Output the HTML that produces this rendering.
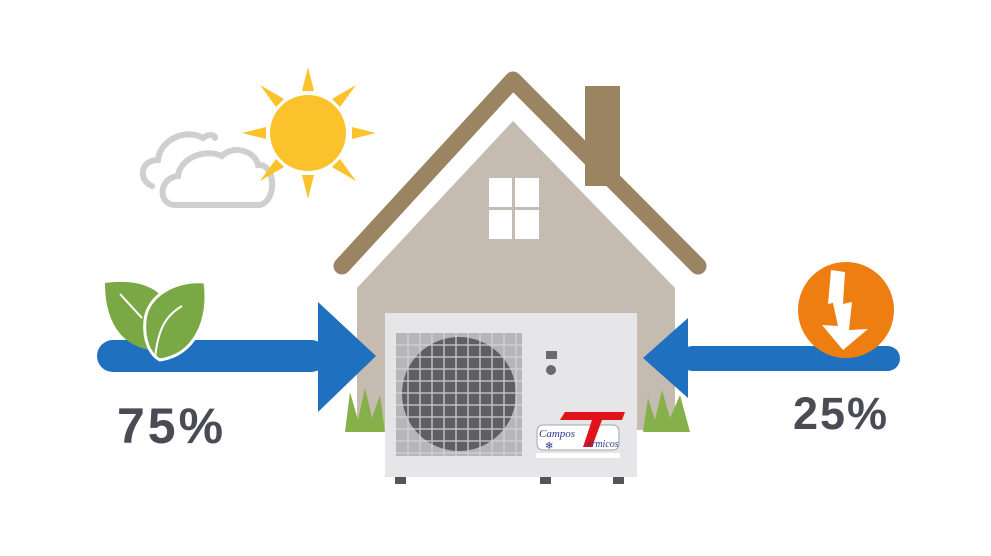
<!DOCTYPE html>
<html><head><style>
html,body{margin:0;padding:0;background:#fff;}
svg{display:block;}
</style></head><body>
<svg width="991" height="556" viewBox="0 0 991 556" xmlns="http://www.w3.org/2000/svg">
<rect width="991" height="556" fill="#fff"/>
<!-- cloud -->
<g fill="none" stroke="#cfcfcf" stroke-width="6" stroke-linecap="round">
<path d="M152 186 C138 180 140 160 158 160 C160 140 185 128 203 138 C208 134 215 134 215 138"/>
<path d="M175 205 C158 205 158 178 178 176 C180 158 205 148 222 156 C232 145 255 150 258 165 C275 163 278 200 260 205 Z" fill="#fff"/>
</g>
<!-- sun -->
<g fill="#fbc22b">
<circle cx="308" cy="133" r="38"/>
<polygon points="308,67 302,91 314,91"/>
<polygon points="308,199 302,175 314,175"/>
<polygon points="242,133 266,127 266,139"/>
<polygon points="376,133 352,127 352,139"/>
<polygon points="260,85 276,107 284,99"/>
<polygon points="356,85 340,107 332,99"/>
<polygon points="260,181 276,159 284,167"/>
<polygon points="356,181 340,159 332,167"/>
</g>
<!-- house -->
<rect x="585" y="86" width="35" height="100" fill="#9b8461"/>
<polygon points="357,288 513,121 675,288 675,430 357,430" fill="#c6bbb0"/>
<polyline points="342,266 513,80 698,266" fill="none" stroke="#9b8461" stroke-width="17" stroke-linecap="round" stroke-linejoin="round"/>
<rect x="489" y="178" width="50" height="61" fill="#fff"/>
<rect x="512" y="178" width="3" height="61" fill="#c6bbb0"/>
<rect x="489" y="207" width="50" height="3" fill="#c6bbb0"/>
<!-- grass -->
<g fill="#86b04a">
<polygon points="345,432 350,392 358,420 365,388 372,418 380,395 385,432"/>
<polygon points="643,432 648,398 655,420 662,390 670,418 680,395 690,432"/>
</g>
<!-- arrows -->
<g fill="#1f70be">
<rect x="97" y="340" width="230" height="32" rx="16"/>
<polygon points="318,302 376,356 318,412"/>
<rect x="680" y="346" width="220" height="25" rx="12.5"/>
<polygon points="688,318 643,358 688,398"/>
</g>
<!-- leaves -->
<g>
<path d="M105 283 C140 278 158 290 165 300 C155 320 150 340 150 350 C120 345 105 320 105 283Z" fill="#7aa845"/>
<path d="M205 282 C175 280 148 295 145 320 C143 340 150 355 160 360 C195 355 210 320 205 282Z" fill="#7aa845" stroke="#fff" stroke-width="3"/>
<path d="M120 294 L142 318" stroke="#fff" stroke-width="2" fill="none"/>
<path d="M182 306 C165 316 158 330 155 358" stroke="#fff" stroke-width="2" fill="none"/>
</g>
<!-- lightning -->
<circle cx="846" cy="310" r="48" fill="#ee7e11"/>
<polygon points="831,270 845,272 843,304 852,302 849,330 868,329 843,350 822,325 838,326 833,303 828,304" fill="#fff"/>
<!-- AC unit -->
<rect x="385" y="313" width="252" height="164" fill="#e6e6e8"/>
<rect x="396" y="333" width="126" height="123" fill="#b6b6b8"/>
<circle cx="459" cy="394" r="57" fill="#5f5f61"/>
<g stroke="#d6d6d8" stroke-width="1.5" opacity="0.8">
<path d="M396 345H522M396 357H522M396 369H522M396 381H522M396 393H522M396 405H522M396 417H522M396 429H522M396 441H522M396 453H522"/>
<path d="M408 333V456M420 333V456M432 333V456M444 333V456M456 333V456M468 333V456M480 333V456M492 333V456M504 333V456M516 333V456"/>
</g>
<rect x="546" y="351" width="11" height="8" fill="#6a6a6c"/>
<circle cx="551" cy="370" r="5" fill="#6a6a6c"/>
<rect x="537" y="425" width="82" height="25" rx="6" fill="#fff" stroke="#9aa" stroke-width="1"/>
<rect x="536" y="453" width="84" height="5" fill="#fff"/>
<polygon points="565,412 625,412 622,420 602,420 592,447 583,447 592,420 560,420" fill="#e2121a"/>
<text x="539" y="437" font-family="Liberation Serif,serif" font-style="italic" font-size="11" fill="#2a3a8a">Campos</text>
<text x="587" y="447" font-family="Liberation Serif,serif" font-style="italic" font-size="10" fill="#2a3a8a">érmicos</text>
<text x="545" y="449" font-family="DejaVu Sans,sans-serif" font-size="10" fill="#2a3a8a">❄</text>
<rect x="395" y="477" width="11" height="7" fill="#555"/>
<rect x="540" y="477" width="11" height="7" fill="#555"/>
<rect x="613" y="477" width="11" height="7" fill="#555"/>
<!-- text -->
<text x="117" y="443" font-family="Liberation Sans,sans-serif" font-weight="bold" font-size="50" letter-spacing="3" fill="#4a4b55">75%</text>
<text x="793" y="429" font-family="Liberation Sans,sans-serif" font-weight="bold" font-size="45" letter-spacing="2" fill="#4a4b55">25%</text>
</svg>
</body></html>
